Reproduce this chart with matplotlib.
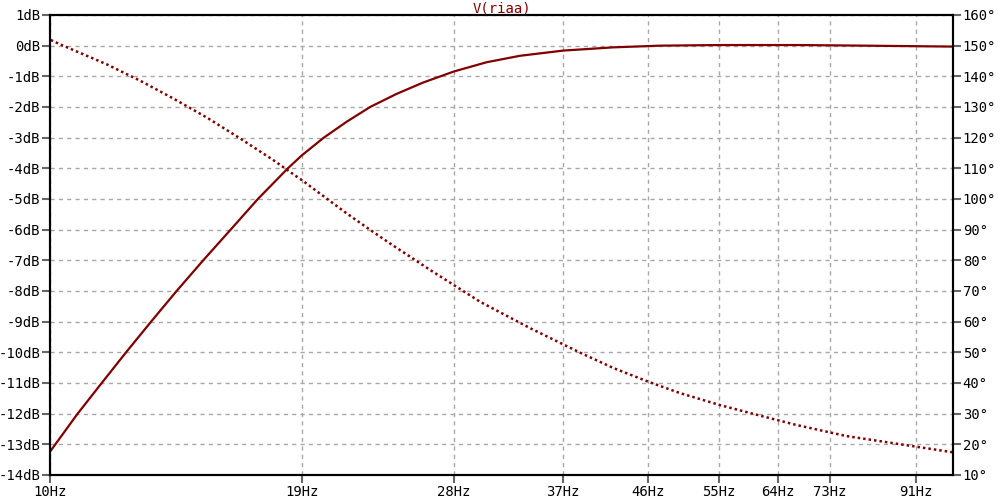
import numpy as np
import matplotlib.pyplot as plt

# magnitude readings (Hz, dB)
mag_f = [10.0, 10.73, 11.41, 12.14, 12.94, 13.81, 14.78, 15.85, 16.99,
         18.34, 19.0, 20.1, 21.31, 22.62, 24.21, 25.91, 28.02, 30.45, 33.15,
         37.03, 42.05, 47.36, 55.0, 67.7, 80.0, 100.0]
mag_db = [-13.24, -12.0, -11.0, -10.0, -9.0, -8.0, -7.0, -6.0, -5.0,
          -4.0, -3.58, -3.0, -2.48, -2.0, -1.57, -1.20, -0.84, -0.54, -0.33,
          -0.16, -0.055, 0.0, 0.02, 0.02, 0.0, -0.03]

# phase readings (Hz, degrees)
ph_f = [10.02, 10.34, 10.61, 11.56, 12.58, 13.69, 14.91, 16.23, 17.67, 18.76,
        19.0, 21.31, 22.53, 23.80, 26.35, 29.94, 34.01, 38.64, 42.05, 46.0,
        49.86, 55.2, 60.7, 67.1, 76.2, 91.2, 100.0]
ph_deg = [151.85, 150.0, 148.6, 143.9, 138.6, 132.8, 126.6, 119.8, 112.7, 107.3,
          106.2, 95.3, 90.3, 85.5, 76.9, 66.5, 57.9, 49.9, 44.9, 40.4,
          36.7, 32.8, 29.6, 26.3, 22.7, 19.2, 17.4]

xticks = [10, 19, 28, 37, 46, 55, 64, 73, 91]
db_ticks = list(range(1, -15, -1))
deg_ticks = list(range(10, 170, 10))

red = '#800000'
grid_c = '#a8a8a8'

plt.rcParams['font.family'] = 'DejaVu Sans Mono'
plt.rcParams['font.size'] = 10

fig = plt.figure(figsize=(10, 5), dpi=100)
ax = fig.add_axes([0.05, 0.05, 0.903, 0.92])
ax2 = ax.twinx()

ax.plot(mag_f, mag_db, color=red, lw=1.6)
ax2.plot(ph_f, ph_deg, color=red, lw=1.8, linestyle=(0, (1, 1.2)))

ax.set_xscale('log')
ax.set_xlim(10, 100)
ax.set_ylim(-14, 1)
ax2.set_ylim(10, 160)

ax.set_xticks(xticks)
ax.set_xticklabels([f'{t}Hz' for t in xticks])
ax.xaxis.set_minor_locator(plt.NullLocator())
ax.set_yticks(db_ticks)
ax.set_yticklabels([f'{t}dB' for t in db_ticks])
ax2.set_yticks(deg_ticks)
ax2.set_yticklabels([f'{t}°' for t in deg_ticks])

ax.grid(True, color=grid_c, linestyle=(0, (3, 3)), lw=1)
for a in (ax, ax2):
    a.tick_params(length=6, width=1.5, color='#666666', labelcolor='black', pad=1)
    for s in a.spines.values():
        s.set_linewidth(1.5)
        s.set_color('black')

ax.set_title('V(riaa)', color=red, fontsize=10, pad=2)

plt.savefig('out.png')
